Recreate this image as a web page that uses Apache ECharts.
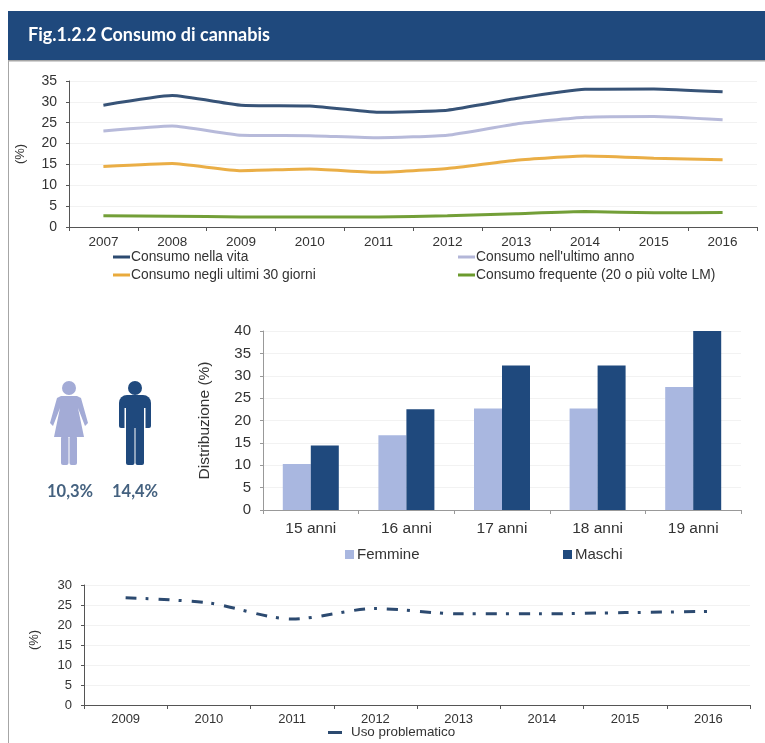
<!DOCTYPE html>
<html>
<head>
<meta charset="utf-8">
<style>
  html, body { margin: 0; padding: 0; background: #fff; }
  #chart { width: 765px; height: 743px; }
</style>
<script src="https://cdn.jsdelivr.net/npm/echarts@6/dist/echarts.min.js"></script>
</head>
<body>
<div id="chart"></div>
<script>
var title = 'Fig.1.2.2 Consumo di cannabis';

var years = ['2007', '2008', '2009', '2010', '2011', '2012', '2013', '2014', '2015', '2016'];
var vita = [29.2, 31.5, 29.2, 29.0, 27.5, 28.0, 30.8, 33.0, 33.1, 32.4];
var anno = [23.0, 24.2, 22.0, 21.9, 21.4, 22.0, 24.7, 26.3, 26.5, 25.7];
var giorni30 = [14.5, 15.2, 13.5, 13.9, 13.1, 14.0, 16.0, 17.0, 16.5, 16.1];
var frequente = [2.7, 2.6, 2.4, 2.4, 2.4, 2.7, 3.2, 3.7, 3.4, 3.5];

var ages = ['15 anni', '16 anni', '17 anni', '18 anni', '19 anni'];
var femmine = [10.3, 16.7, 22.7, 22.7, 27.5];
var maschi = [14.4, 22.5, 32.3, 32.3, 40.0];

var yearsUso = ['2009', '2010', '2011', '2012', '2013', '2014', '2015', '2016'];
var usoProblematico = [26.8, 25.5, 21.5, 24.1, 22.8, 22.8, 23.1, 23.4];

var totaleFemmine = '10,3%';
var totaleMaschi = '14,4%';

var navy = '#1f497d';
var lilac = '#a9b7e0';
var figureLilac = '#a3abd6';
var font = '"Liberation Sans", Arial, sans-serif';

function lineSeries(name, data, color, idx) {
    return {
        name: name,
        type: 'line',
        xAxisIndex: idx,
        yAxisIndex: idx,
        data: data,
        symbol: 'none',
        smooth: 0.15,
        lineStyle: { color: color, width: 3, opacity: 0.95 },
        itemStyle: { color: color }
    };
}

function xAxis(gridIndex, data, fontSize, margin, lineColor) {
    return {
        type: 'category',
        gridIndex: gridIndex,
        data: data,
        axisLine: { lineStyle: { color: lineColor, width: 1 } },
        axisTick: { show: true, length: 4, lineStyle: { color: lineColor } },
        axisLabel: { color: '#333', fontSize: fontSize, margin: margin, fontFamily: font, interval: 0 }
    };
}

function yAxis(gridIndex, max, name, fontSize, nameGap, nameSize, lineColor, namePadding) {
    return {
        type: 'value',
        gridIndex: gridIndex,
        min: 0,
        max: max,
        interval: 5,
        name: name,
        nameLocation: 'middle',
        nameGap: nameGap,
        nameTextStyle: { color: '#333', fontSize: nameSize, fontFamily: font, padding: namePadding },
        axisLine: { show: true, lineStyle: { color: lineColor, width: 1 } },
        axisTick: { show: true, length: 3, lineStyle: { color: lineColor } },
        axisLabel: { color: '#333', fontSize: fontSize, margin: 12, fontFamily: font },
        splitLine: { show: true, lineStyle: { color: '#f2f2f2', width: 1 } }
    };
}

function legend(name, left, top, fontSize, w, h, textPad) {
    return {
        data: [name],
        left: left,
        top: top,
        icon: 'rect',
        itemWidth: w,
        itemHeight: h,
        itemGap: 0,
        padding: 0,
        textStyle: { color: '#333', fontSize: fontSize, fontFamily: font, padding: [0, 0, 0, textPad] }
    };
}

var option = {
    animation: false,
    backgroundColor: '#fff',
    textStyle: { fontFamily: font },
    grid: [
        { left: 69, right: 8, top: 81, height: 146 },
        { left: 263, right: 24, top: 331, height: 179 },
        { left: 84, right: 15, top: 585, height: 120 }
    ],
    xAxis: [
        xAxis(0, years, 13.5, 8, '#555'),
        xAxis(1, ages, 15.5, 11, '#999'),
        xAxis(2, yearsUso, 13, 8, '#555')
    ],
    yAxis: [
        yAxis(0, 35, '(%)', 14, 42, 13, '#555', 0),
        yAxis(1, 40, 'Distribuzione (%)', 15, 50, 15.5, '#999', 0),
        yAxis(2, 30, '(%)', 13, 43, 13, '#555', [0, 0, 0, 10])
    ],
    legend: [
        legend('Consumo nella vita', 113, 250, 13.8, 17, 3, -4),
        legend("Consumo nell'ultimo anno", 458, 250, 13.8, 17, 3, -4),
        legend('Consumo negli ultimi 30 giorni', 113, 268, 13.8, 17, 3, -4),
        legend('Consumo frequente (20 o più volte LM)', 458, 268, 13.8, 17, 3, -4),
        legend('Femmine', 345, 547, 15, 9, 9, -2),
        legend('Maschi', 563, 547, 15, 9, 9, -2),
        legend('Uso problematico', 328, 726, 13.4, 14, 3, 4)
    ],
    series: [
        lineSeries('Consumo nella vita', vita, '#2c4a70', 0),
        lineSeries("Consumo nell'ultimo anno", anno, '#b3b6d8', 0),
        lineSeries('Consumo negli ultimi 30 giorni', giorni30, '#e9aa3c', 0),
        lineSeries('Consumo frequente (20 o più volte LM)', frequente, '#6b9a2d', 0),
        {
            name: 'Femmine',
            type: 'bar',
            xAxisIndex: 1,
            yAxisIndex: 1,
            data: femmine,
            barWidth: 28,
            barGap: 0,
            itemStyle: { color: lilac }
        },
        {
            name: 'Maschi',
            type: 'bar',
            xAxisIndex: 1,
            yAxisIndex: 1,
            data: maschi,
            barWidth: 28,
            itemStyle: { color: navy }
        },
        {
            name: 'Uso problematico',
            type: 'line',
            xAxisIndex: 2,
            yAxisIndex: 2,
            data: usoProblematico,
            symbol: 'none',
            smooth: 0.3,
            lineStyle: { color: '#2c4a70', width: 3, type: [11, 9, 3, 10] },
            itemStyle: { color: '#2c4a70' }
        }
    ],
    graphic: [
        // header
        { type: 'rect', shape: { x: 8, y: 11, width: 757, height: 49 }, style: { fill: navy } },
        { type: 'rect', shape: { x: 8, y: 60, width: 757, height: 1.5 }, style: { fill: '#a6a6a6' } },
        { type: 'rect', shape: { x: 8, y: 60, width: 1, height: 683 }, style: { fill: '#a6a6a6' } },
        {
            type: 'text',
            x: 28,
            y: 26,
            style: { text: title, fill: '#fff', font: 'bold 18px Lato, "Open Sans", sans-serif' }
        },
        // woman
        { type: 'circle', shape: { cx: 69, cy: 388, r: 7 }, style: { fill: figureLilac } },
        {
            type: 'polygon',
            shape: { points: [[61, 396], [77, 396], [81, 398], [88, 423], [85, 426], [78, 408], [84, 437], [54, 437], [60, 408], [53, 426], [50, 423], [57, 398]] },
            style: { fill: figureLilac }
        },
        { type: 'rect', shape: { x: 61, y: 436, width: 7.5, height: 29, r: 2 }, style: { fill: figureLilac } },
        { type: 'rect', shape: { x: 69.5, y: 436, width: 7.5, height: 29, r: 2 }, style: { fill: figureLilac } },
        // man
        { type: 'circle', shape: { cx: 135, cy: 388, r: 7 }, style: { fill: navy } },
        { type: 'rect', shape: { x: 119, y: 395, width: 32, height: 33, r: [8, 8, 2, 2] }, style: { fill: navy } },
        { type: 'rect', shape: { x: 124.5, y: 408, width: 1.5, height: 21 }, style: { fill: '#fff' } },
        { type: 'rect', shape: { x: 144, y: 408, width: 1.5, height: 21 }, style: { fill: '#fff' } },
        { type: 'rect', shape: { x: 126, y: 425, width: 8.5, height: 40, r: 2 }, style: { fill: navy } },
        { type: 'rect', shape: { x: 135.5, y: 425, width: 8.5, height: 40, r: 2 }, style: { fill: navy } },
        // percentages
        {
            type: 'text',
            x: 47,
            y: 483,
            style: { text: totaleFemmine, fill: '#44617f', font: 'bold 16.5px Lato, "Open Sans", sans-serif' }
        },
        {
            type: 'text',
            x: 112,
            y: 483,
            style: { text: totaleMaschi, fill: '#44617f', font: 'bold 16.5px Lato, "Open Sans", sans-serif' }
        }
    ]
};

var chart = echarts.init(document.getElementById('chart'));
chart.setOption(option);
</script>
</body>
</html>
